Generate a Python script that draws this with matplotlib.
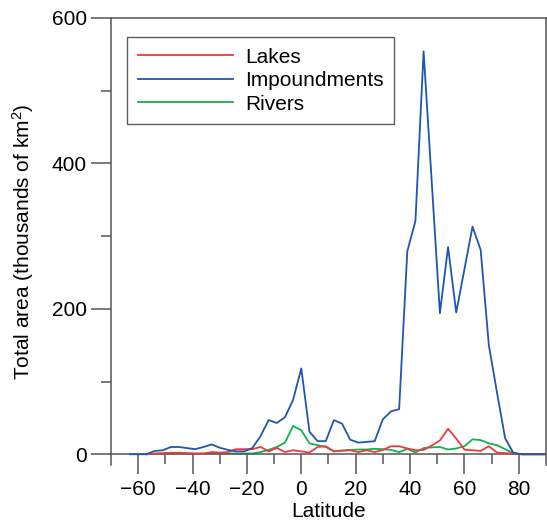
import numpy as np
import matplotlib.pyplot as plt
from matplotlib.ticker import MultipleLocator, FixedLocator

plt.rcParams['font.family'] = ['Liberation Sans', 'DejaVu Sans']
plt.rcParams['mathtext.fontset'] = 'custom'
plt.rcParams['mathtext.rm'] = 'Liberation Sans'
plt.rcParams['mathtext.it'] = 'Liberation Sans:italic'

# latitude bins (3 degree steps)
lat_imp = [-63, -60, -57, -54, -51, -48, -45, -42, -39, -36, -33, -30, -27, -24, -21,
           -18, -15, -12, -9, -6, -3, 0, 3, 6, 9, 12, 15, 18, 21, 24, 27, 30, 33, 36,
           39, 42, 45, 48, 51, 54, 57, 60, 63, 66, 69, 72, 75, 78, 81, 84, 87, 90]
impoundments = [0, 0, 0, 4.5, 5.5, 10, 10, 8.5, 7, 10, 13.5, 9, 6, 4, 4,
                8.5, 25, 47, 43, 51, 75, 118, 31, 18, 18, 47, 42, 20, 16, 17, 18, 48, 59, 62,
                279, 321, 554, 374, 194, 285, 195, 254, 313, 281, 150, 85, 22, 2, 0, 0, 0, 0]

lat = [-57, -54, -51, -48, -45, -42, -39, -36, -33, -30, -27, -24, -21,
       -18, -15, -12, -9, -6, -3, 0, 3, 6, 9, 12, 15, 18, 21, 24, 27, 30, 33, 36,
       39, 42, 45, 48, 51, 54, 57, 60, 63, 66, 69, 72, 75, 78, 81, 84, 87, 90]
lakes = [0, 1, 1.5, 2, 2, 1.5, 1, 1, 3, 2.3, 3, 7, 7,
         7, 10, 4, 8.7, 3, 5.5, 4, 2.3, 10, 11, 4, 5, 5.5, 3, 5.5, 3, 6, 11, 11,
         8, 5.5, 6, 12, 19, 35, 21.6, 6.4, 5.5, 4.6, 11, 2.3, 1.5, 1, 0, 0, 0, 0]
rivers = [0, 0.5, 1, 1, 1, 1, 1, 1, 1, 1, 1, 1, 1,
          1, 3, 6, 10, 16, 39, 33, 15, 12.5, 10, 4, 5, 6, 6.5, 6.5, 7.5, 7, 6, 3,
          7.5, 2.5, 8.5, 9.5, 10, 6.5, 8, 11, 20.5, 19.5, 15, 12.5, 7, 1.5, 0, 0, 0, 0]

fig = plt.figure(figsize=(5.47, 5.28), dpi=100)
ax = fig.add_axes([0.203, 0.119, 0.795, 0.847])

l1, = ax.plot(lat, lakes, color='#ee3a3f', lw=1.3, label='Lakes', zorder=3)
l3, = ax.plot(lat, rivers, color='#12b04e', lw=1.3, label='Rivers', zorder=2)
l2, = ax.plot(lat_imp, impoundments, color='#1f56b0', lw=1.3, label='Impoundments', zorder=4)

ax.set_xlim(-70, 90)
ax.set_ylim(-15, 600)

frame_col = '#555555'
for s in ax.spines.values():
    s.set_color(frame_col)
    s.set_linewidth(1.1)
ax.spines['bottom'].set_position(('data', 0))

ax.xaxis.set_major_locator(FixedLocator([-60, -40, -20, 0, 20, 40, 60, 80]))
ax.xaxis.set_minor_locator(FixedLocator([-50, -30, -10, 10, 30, 50, 70]))
ax.yaxis.set_major_locator(MultipleLocator(200))
ax.yaxis.set_minor_locator(FixedLocator([100, 300, 500]))

ax.tick_params(which='major', length=14.4, width=1.1, color=frame_col,
               labelsize=15, direction='out', pad=3)
ax.tick_params(which='minor', length=7.2, width=1.1, color=frame_col, direction='out')
ax.tick_params(axis='x', which='major', pad=4)

ax.set_xlabel('Latitude', fontsize=15, labelpad=2)
ax.set_ylabel('Total area (thousands of km$^2$)', fontsize=15, labelpad=11)

leg = ax.legend(handles=[l1, l2, l3], loc='upper left', bbox_to_anchor=(0.037, 0.957),
                fontsize=15, frameon=True, fancybox=False, handlelength=4.6,
                handletextpad=0.55, labelspacing=0.22, borderpad=0.5, borderaxespad=0)
leg.get_frame().set_edgecolor('#333333')
leg.get_frame().set_linewidth(1.0)

fig.savefig('out.png', dpi=100)
